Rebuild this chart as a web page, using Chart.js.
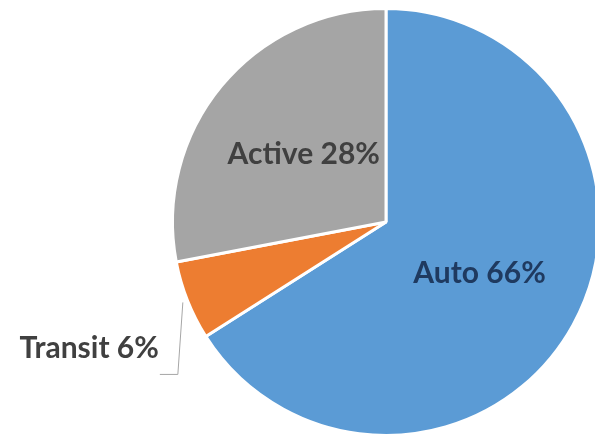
<!DOCTYPE html>
<html>
<head>
<meta charset="utf-8">
<script src="https://cdn.jsdelivr.net/npm/chart.js@4.4.1/dist/chart.umd.min.js"></script>
<style>
  html, body { margin: 0; padding: 0; background: #fff; }
  #wrap { width: 595px; height: 436px; overflow: hidden; position: relative; }
  #box { position: absolute; left: 0; top: 0; width: 602px; height: 442px; }
</style>
</head>
<body>
<div id="wrap"><div id="box"><canvas id="pie"></canvas></div></div>
<script>
// Parts de mode de transport
const LABELS = ["Auto", "Transit", "Active"];
const VALUES = [66, 6, 28];
const COLORS = ["#5B9BD5", "#ED7D31", "#A5A5A5"];
const TEXT_COLORS = ["#1F3A60", "#404040", "#404040"];

// Étiquettes dessinées à la main (style Excel)
const labelPlugin = {
  id: 'pieLabels',
  afterDatasetsDraw(chart) {
    const ctx = chart.ctx;
    const arcs = chart.getDatasetMeta(0).data;
    ctx.save();
    ctx.font = 'bold 30px Lato, "Open Sans", sans-serif';
    ctx.textBaseline = 'middle';
    arcs.forEach((arc, i) => {
      const txt = `${LABELS[i]} ${VALUES[i]}%`;
      if (LABELS[i] === 'Transit') {
        // étiquette externe + ligne de rappel
        const mid = (arc.startAngle + arc.endAngle) / 2;
        const r = arc.outerRadius + 5;
        const sx = arc.x + Math.cos(mid) * r;
        const sy = arc.y + Math.sin(mid) * r;
        const ly = sy + 72;
        ctx.strokeStyle = '#A6A6A6';
        ctx.lineWidth = 1;
        ctx.beginPath();
        ctx.moveTo(sx, sy);
        ctx.lineTo(sx - 5, ly);
        ctx.lineTo(sx - 23, ly);
        ctx.stroke();
        ctx.fillStyle = TEXT_COLORS[i];
        ctx.textAlign = 'right';
        ctx.fillText(txt, sx - 24, ly - 26);
      } else {
        const p = arc.getCenterPoint();
        ctx.fillStyle = TEXT_COLORS[i];
        ctx.textAlign = 'center';
        ctx.fillText(txt, p.x, p.y);
      }
    });
    ctx.restore();
  }
};

new Chart(document.getElementById('pie'), {
  type: 'pie',
  data: {
    labels: LABELS,
    datasets: [{
      data: VALUES,
      backgroundColor: COLORS,
      borderColor: '#FFFFFF',
      borderWidth: 3
    }]
  },
  options: {
    responsive: true,
    maintainAspectRatio: false,
    animation: false,
    layout: { padding: { left: 170, top: 7, right: 0, bottom: 5 } },
    plugins: {
      legend: { display: false },
      tooltip: { enabled: false }
    }
  },
  plugins: [labelPlugin]
});
</script>
</body>
</html>
